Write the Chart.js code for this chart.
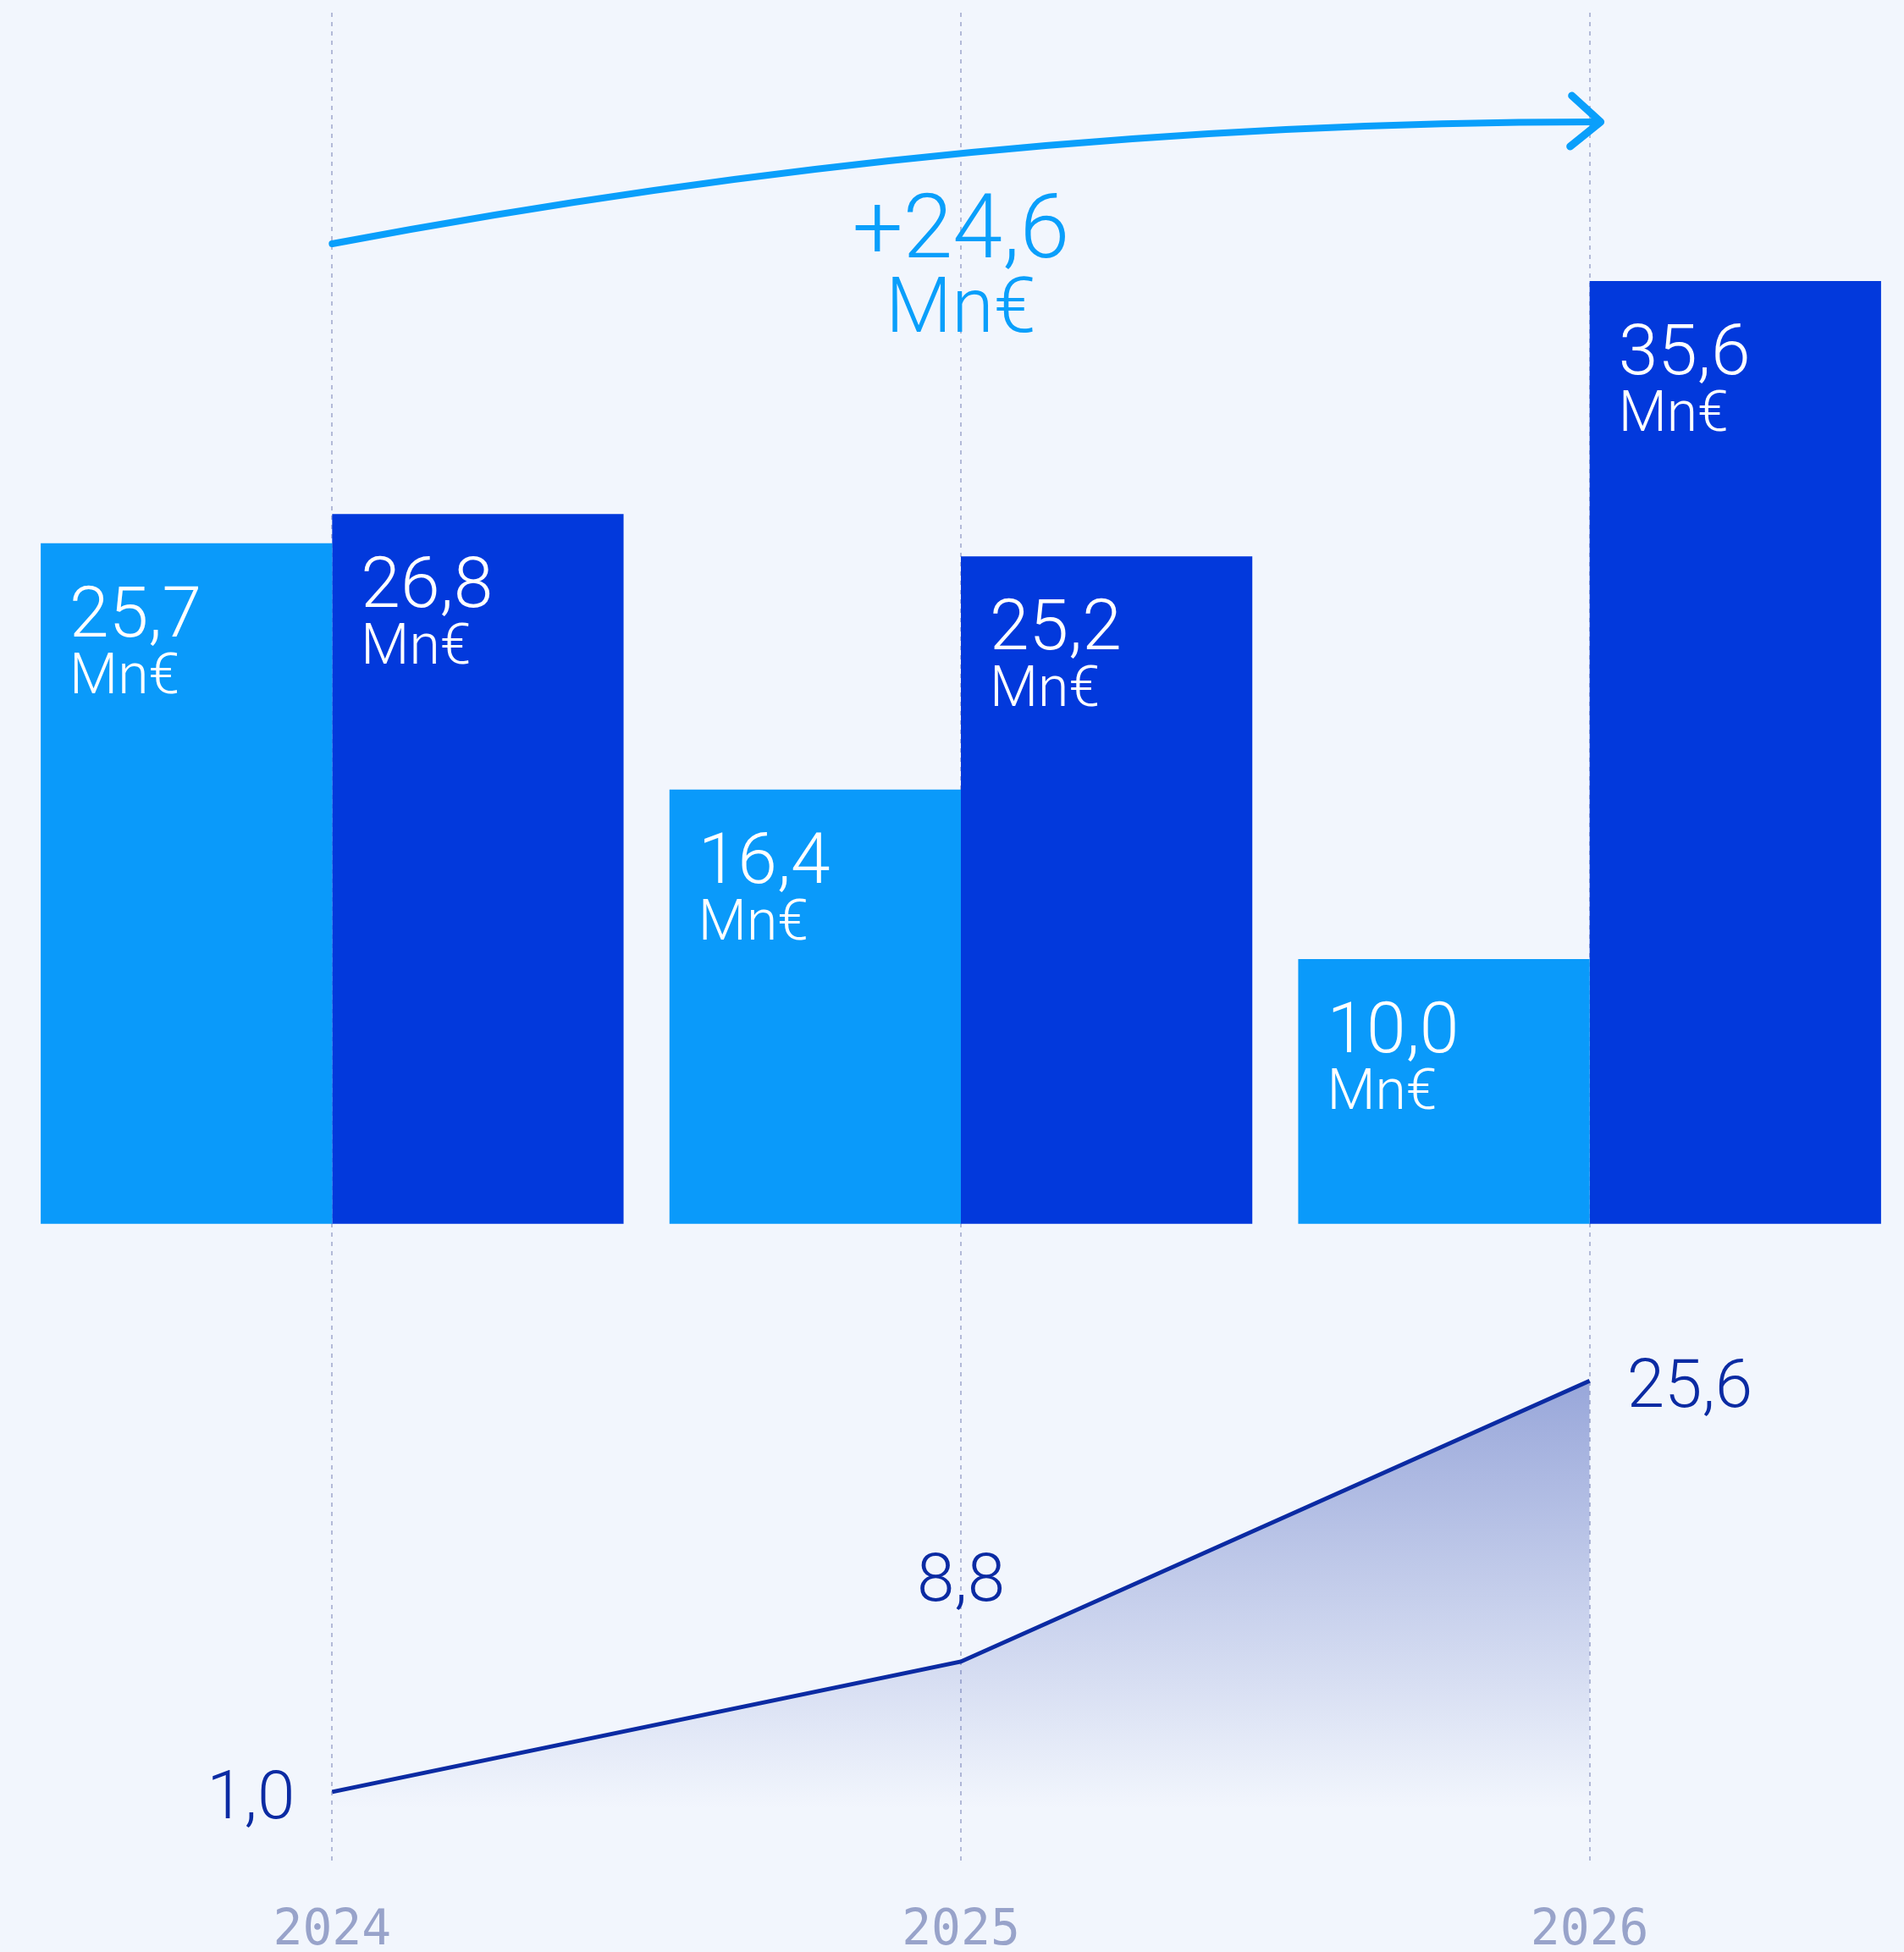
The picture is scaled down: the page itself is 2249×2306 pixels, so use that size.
<!DOCTYPE html>
<html>
<head>
<meta charset="utf-8">
<script src="https://cdn.jsdelivr.net/npm/chart.js@4.4.1/dist/chart.umd.min.js"></script>
<style>
    html, body { margin: 0; padding: 0; background: #f2f6fd; }
    #wrap { width: 2249px; height: 2306px; }
</style>
</head>
<body>
<div id="wrap"><canvas id="myChart" width="2249" height="2306"></canvas></div>
<script>
var years = ['2024', '2025', '2026'];
var lightBars = [25.7, 16.4, 10.0];
var darkBars = [26.8, 25.2, 35.6];
var lineValues = [1.0, 8.8, 25.6];
var lineLabelSide = ['left', 'above', 'right'];
var unit = 'Mn€';

var lightFont = 'Roboto, Inter, "Noto Sans", sans-serif';

function fmt(v) {
    return v.toFixed(1).replace('.', ',');
}

// white value labels inside the top-left corner of every bar
var barLabels = {
    id: 'barLabels',
    afterDatasetsDraw: function(chart) {
        var ctx = chart.ctx;
        ctx.save();
        ctx.fillStyle = '#ffffff';
        ctx.textAlign = 'left';
        ctx.textBaseline = 'alphabetic';
        [0, 1].forEach(function(di) {
            var meta = chart.getDatasetMeta(di);
            meta.data.forEach(function(bar, i) {
                var left = bar.x - bar.width / 2 + 34;
                ctx.font = '300 84px ' + lightFont;
                ctx.fillText(fmt(chart.data.datasets[di].data[i]), left, bar.y + 110);
                ctx.font = '300 66px ' + lightFont;
                ctx.fillText(unit, left, bar.y + 177);
            });
        });
        ctx.restore();
    }
};

// numbers next to the points of the line
var lineLabels = {
    id: 'lineLabels',
    afterDatasetsDraw: function(chart) {
        var ctx = chart.ctx;
        var meta = chart.getDatasetMeta(2);
        ctx.save();
        ctx.fillStyle = '#0b2ba3';
        ctx.font = '300 80px ' + lightFont;
        ctx.textBaseline = 'alphabetic';
        meta.data.forEach(function(pt, i) {
            var txt = fmt(lineValues[i]);
            if (lineLabelSide[i] === 'left') {
                ctx.textAlign = 'right';
                ctx.fillText(txt, pt.x - 44, pt.y + 31);
            } else if (lineLabelSide[i] === 'right') {
                ctx.textAlign = 'left';
                ctx.fillText(txt, pt.x + 44, pt.y + 31);
            } else {
                ctx.textAlign = 'center';
                ctx.fillText(txt, pt.x, pt.y - 72);
            }
        });
        ctx.restore();
    }
};

// curved arrow from 2024 to 2026 with the total growth of the line
var growthArrow = {
    id: 'growthArrow',
    afterDraw: function(chart) {
        var ctx = chart.ctx;
        var x = chart.scales.x;
        var top = chart.chartArea.top;
        var x0 = x.getPixelForValue(0);
        var x1 = x.getPixelForValue(2) + 13;
        var y0 = top + 273;
        var y1 = top + 129;
        var cx = x0 + (x1 - x0) * 0.51;

        ctx.save();
        ctx.strokeStyle = '#0a9ffb';
        ctx.lineCap = 'round';
        ctx.lineJoin = 'round';
        ctx.lineWidth = 8;
        ctx.beginPath();
        ctx.moveTo(x0, y0);
        ctx.quadraticCurveTo(cx, y1, x1 - 5, y1);
        ctx.stroke();

        ctx.lineWidth = 9;
        ctx.beginPath();
        ctx.moveTo(x1 - 34, y1 - 31);
        ctx.lineTo(x1, y1);
        ctx.lineTo(x1 - 36, y1 + 29);
        ctx.stroke();

        var growth = lineValues[lineValues.length - 1] - lineValues[0];
        var mid = x.getPixelForValue(1);
        ctx.fillStyle = '#0a9ffb';
        ctx.textAlign = 'center';
        ctx.textBaseline = 'alphabetic';
        ctx.font = '300 106px ' + lightFont;
        ctx.fillText('+' + fmt(growth), mid, top + 289);
        ctx.font = '300 90px ' + lightFont;
        ctx.fillText(unit, mid, top + 377);
        ctx.restore();
    }
};

var pageBg = {
    id: 'pageBg',
    beforeDraw: function(chart) {
        var ctx = chart.ctx;
        ctx.save();
        ctx.fillStyle = '#f2f6fd';
        ctx.fillRect(0, 0, chart.width, chart.height);
        ctx.restore();
    }
};

var ctx = document.getElementById('myChart');

var myChart = new Chart(ctx, {
    type: 'bar',
    data: {
        labels: years,
        datasets: [{
            data: lightBars,
            backgroundColor: '#0a9afa',
            yAxisID: 'y',
            order: 2
        }, {
            data: darkBars,
            backgroundColor: '#0239dc',
            yAxisID: 'y',
            order: 2
        }, {
            type: 'line',
            data: lineValues,
            yAxisID: 'y2',
            borderColor: '#0b2ba3',
            borderWidth: 5,
            pointRadius: 0,
            tension: 0,
            fill: 'start',
            backgroundColor: function(context) {
                var chart = context.chart;
                if (!chart.chartArea) return 'rgba(0,0,0,0)';
                var y2 = chart.scales.y2;
                var g = chart.ctx.createLinearGradient(0, y2.getPixelForValue(Math.max.apply(null, lineValues)), 0, y2.getPixelForValue(0));
                g.addColorStop(0, 'rgba(18,48,165,0.40)');
                g.addColorStop(1, 'rgba(18,48,165,0)');
                return g;
            },
            order: 1
        }]
    },
    options: {
        responsive: false,
        animation: false,
        devicePixelRatio: 1,
        layout: { padding: { top: 15, left: 21, right: 0, bottom: 0 } },
        datasets: {
            bar: { categoryPercentage: 0.927, barPercentage: 1.0 }
        },
        plugins: {
            legend: { display: false },
            tooltip: { enabled: false }
        },
        scales: {
            x: {
                offset: true,
                border: { display: false, dash: [5, 6] },
                grid: {
                    offset: false,
                    drawTicks: false,
                    color: '#b3bad8',
                    lineWidth: 2
                },
                ticks: {
                    padding: 48,
                    color: '#98a3ca',
                    font: { family: '"DejaVu Sans Mono", "Liberation Mono", monospace', size: 58 }
                },
                afterFit: function(scale) { scale.height = 107; }
            },
            y: {
                display: false,
                min: -24.07,
                max: 45.73
            },
            y2: {
                display: false,
                min: -3.16,
                max: 107.48
            }
        }
    },
    plugins: [pageBg, barLabels, lineLabels, growthArrow]
});
</script>
</body>
</html>
